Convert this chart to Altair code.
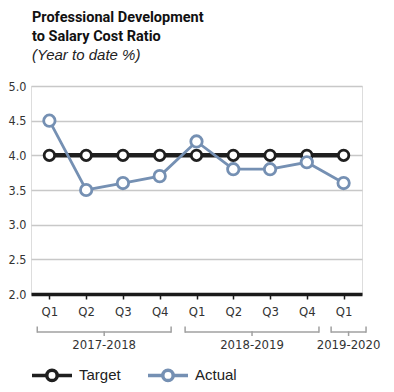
import altair as alt
import pandas as pd

quarters = ["Q1", "Q2", "Q3", "Q4", "Q1", "Q2", "Q3", "Q4", "Q1"]
target = [4.0, 4.0, 4.0, 4.0, 4.0, 4.0, 4.0, 4.0, 4.0]
actual = [4.5, 3.5, 3.6, 3.7, 4.2, 3.8, 3.8, 3.9, 3.6]
years = ["2017-2018", "2018-2019", "2019-2020"]
year_start = [0, 4, 8]
year_end = [3, 7, 8]
y_ticks = [2.0, 2.5, 3.0, 3.5, 4.0, 4.5, 5.0]

series = ["Target", "Actual"]
colors = ["#1f1f1f", "#7590b3"]

rows = []
for i, q in enumerate(quarters):
    rows.append({"idx": i, "q": q, "series": "Target", "value": target[i]})
    rows.append({"idx": i, "q": q, "series": "Actual", "value": actual[i]})
df = pd.DataFrame(rows)

# bracket extents (padding around group in index units)
pad_l = [0.33, 0.31, 0.34]
pad_r = [0.31, 0.33, 0.61]
br = pd.DataFrame({
    "label": years,
    "x1": [s - p for s, p in zip(year_start, pad_l)],
    "x2": [e + p for e, p in zip(year_end, pad_r)],
})
br["mid"] = (br["x1"] + br["x2"]) / 2

AXFONT = "DejaVu Sans Condensed, Liberation Sans Narrow, Arial Narrow, sans-serif"
label_expr = "[" + ",".join("'%s'" % q for q in quarters) + "][datum.value]"

xscale = alt.Scale(domain=[-0.5, len(quarters) - 0.5], nice=False, zero=False)
yscale = alt.Scale(domain=[2, 5], nice=False, zero=False)
cscale = alt.Scale(domain=series, range=colors)

legend_path = ("M-1,0H-0.26M0.26,0H1M-0.26,0A0.26,0.26,0,1,1,0.26,0"
               "A0.26,0.26,0,1,1,-0.26,0Z")

x_enc = alt.X("idx:Q", scale=xscale, axis=alt.Axis(
    values=list(range(len(quarters))), labelExpr=label_expr, title=None,
    grid=False, domainColor="#1a1a1a", domainWidth=3.5, tickColor="#1a1a1a",
    tickWidth=1.5, tickSize=5, labelPadding=6, labelFont=AXFONT,
    labelFontSize=13, labelColor="#333333"))
y_enc = alt.Y("value:Q", scale=yscale, axis=alt.Axis(
    values=y_ticks, format=".1f", title=None, domain=False, ticks=False,
    gridColor="#c8c8c8", gridWidth=1.5, labelPadding=5, labelFont=AXFONT,
    labelFontSize=12.5, labelColor="#333333"))

base = alt.Chart(df).encode(x=x_enc, y=y_enc)

color_enc = alt.Color("series:N", scale=cscale, sort=series, legend=alt.Legend(
    title=None, orient="none", legendX=-1, legendY=267, direction="horizontal",
    symbolType=legend_path, symbolSize=1600, symbolStrokeWidth=3.5,
    symbolFillColor="white", labelFont="Liberation Sans, Arial, sans-serif",
    labelFontSize=15, labelColor="#222222", labelOffset=5, columnPadding=20))

t_line = base.transform_filter("datum.series == 'Target'").mark_line(
    strokeWidth=4.5).encode(color=color_enc)
t_pts = base.transform_filter("datum.series == 'Target'").mark_point(
    filled=False, fill="white", fillOpacity=1, size=110, strokeWidth=2.8,
    opacity=1).encode(color=color_enc)
a_line = base.transform_filter("datum.series == 'Actual'").mark_line(
    strokeWidth=2.8).encode(color=color_enc)
a_pts = base.transform_filter("datum.series == 'Actual'").mark_point(
    filled=False, fill="white", fillOpacity=1, size=130, strokeWidth=2.8,
    opacity=1).encode(color=color_enc)

bcol = "#a0a0a0"
bbase = alt.Chart(br)
b_h = bbase.mark_rule(color=bcol, strokeWidth=1.5).encode(
    x=alt.X("x1:Q", scale=xscale), x2="x2:Q", y=alt.value(246))
b_l = bbase.mark_rule(color=bcol, strokeWidth=1.5).encode(
    x=alt.X("x1:Q", scale=xscale), y=alt.value(240.5), y2=alt.value(246.7))
b_r = bbase.mark_rule(color=bcol, strokeWidth=1.5).encode(
    x=alt.X("x2:Q", scale=xscale), y=alt.value(240.5), y2=alt.value(246.7))
b_m = bbase.mark_rule(color=bcol, strokeWidth=1.5).encode(
    x=alt.X("mid:Q", scale=xscale), y=alt.value(245.3), y2=alt.value(250))
b_t = bbase.mark_text(font=AXFONT, fontSize=13, color="#333333",
                      baseline="middle", align="center").encode(
    x=alt.X("mid:Q", scale=xscale), y=alt.value(259), text="label:N")

chart = alt.layer(t_line, t_pts, a_line, a_pts, b_h, b_l, b_r, b_m, b_t).properties(
    width=331, height=208,
    padding={"left": 23, "top": 78, "right": 24, "bottom": 90},
    autosize=alt.AutoSizeParams(type="none"),
    title=alt.TitleParams(
        text=["Professional Development", "to Salary Cost Ratio"],
        subtitle="(Year to date %)", anchor="start", frame="group",
        font="Roboto, Liberation Sans, Arial, sans-serif", fontSize=14.5,
        fontWeight="bold", color="#111111", lineHeight=18.5,
        subtitleFont="Liberation Sans, Arial, sans-serif",
        subtitleFontSize=15, subtitleFontStyle="italic",
        subtitleColor="#222222", subtitlePadding=4, offset=16, dx=1),
).configure_view(stroke=None).configure(background="white")

chart.save("out.html", embed_options={"renderer": "svg", "actions": False})
